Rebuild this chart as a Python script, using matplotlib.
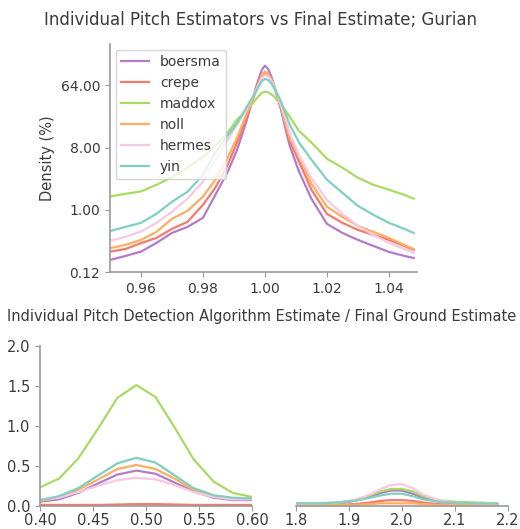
import matplotlib
matplotlib.use("Agg")
import matplotlib.pyplot as plt
from matplotlib.ticker import FixedLocator, FormatStrFormatter

names = ["boersma", "crepe", "maddox", "noll", "hermes", "yin"]
colors = ["#b47cc7", "#f57a6c", "#a9db63", "#fdae61", "#f9c8e2", "#7fd0c0"]

# ratio axis for the density plot (top)
ratio = [0.950, 0.955, 0.960, 0.965, 0.970, 0.975, 0.980, 0.984, 0.988, 0.991,
         0.994, 0.996, 0.997, 0.998, 0.999, 1.000, 1.001, 1.002, 1.003, 1.004,
         1.005, 1.0065, 1.008, 1.011,
         1.015, 1.020, 1.025, 1.030, 1.035, 1.040, 1.045, 1.048]

dens_boersma = [0.187, 0.214, 0.247, 0.331, 0.462, 0.565, 0.765, 1.65, 3.58, 7.4,
                19.1, 40, 58, 80, 108, 124, 112, 88, 64, 45,
                31, 16, 8.5, 3.6,
                1.45, 0.625, 0.462, 0.366, 0.299, 0.245, 0.214, 0.200]
dens_crepe = [0.247, 0.27, 0.329, 0.391, 0.529, 0.669, 1.18, 2.1, 4.5, 9.5,
              21.9, 38.7, 52, 68, 88, 98, 92, 76, 60, 44,
              32, 18, 10, 5.0,
              1.96, 0.874, 0.647, 0.511, 0.432, 0.366, 0.299, 0.262]
dens_maddox = [1.56, 1.71, 1.85, 2.31, 2.97, 4.09, 5.92, 8.55, 13.2, 20.4,
               27.7, 35, 40, 45, 50, 52, 51, 48, 44, 39,
               35, 28, 22.6, 14,
               9.5, 5.53, 4.09, 2.92, 2.31, 1.96, 1.65, 1.45]
dens_noll = [0.277, 0.309, 0.366, 0.478, 0.74, 0.967, 1.55, 2.74, 5.7, 11.2,
             24.2, 40, 53, 70, 92, 102, 96, 80, 63, 46,
             34, 19, 11, 6.0,
             2.39, 1.11, 0.79, 0.585, 0.478, 0.391, 0.309, 0.27]
dens_hermes = [0.354, 0.405, 0.483, 0.647, 0.935, 1.45, 2.56, 5.35, 10.5, 17.3,
               28.6, 42.8, 53, 66, 82, 91, 87, 76, 62, 47,
               35, 22, 13, 6.2,
               2.9, 1.40, 0.874, 0.585, 0.432, 0.331, 0.27, 0.237]
dens_yin = [0.49, 0.565, 0.647, 0.874, 1.31, 1.83, 3.23, 6.77, 12.0, 18.0,
            30.6, 42.8, 51, 62, 74, 80, 77, 69, 59, 48,
            39, 26, 17.3, 9.5,
            5.35, 2.74, 1.77, 1.14, 0.846, 0.647, 0.529, 0.462]

# octave-below region (bottom left)
low_x = [0.400, 0.418, 0.436, 0.455, 0.473, 0.491, 0.509, 0.527, 0.545, 0.564, 0.582, 0.600]
low_boersma = [0.05, 0.08, 0.16, 0.28, 0.39, 0.44, 0.40, 0.29, 0.18, 0.10, 0.07, 0.07]
low_crepe = [0.01, 0.01, 0.01, 0.01, 0.015, 0.02, 0.02, 0.015, 0.01, 0.01, 0.01, 0.01]
low_maddox = [0.23, 0.34, 0.59, 0.97, 1.35, 1.51, 1.36, 0.98, 0.58, 0.30, 0.16, 0.11]
low_noll = [0.06, 0.10, 0.20, 0.33, 0.46, 0.51, 0.46, 0.34, 0.20, 0.12, 0.09, 0.09]
low_hermes = [0.08, 0.10, 0.17, 0.25, 0.32, 0.35, 0.33, 0.26, 0.17, 0.11, 0.08, 0.08]
low_yin = [0.07, 0.12, 0.22, 0.38, 0.53, 0.60, 0.54, 0.38, 0.22, 0.13, 0.10, 0.09]

# octave-above region (bottom right)
high_x = [1.80, 1.84, 1.88, 1.91, 1.94, 1.96, 1.98, 2.00, 2.02, 2.04, 2.07, 2.10, 2.14, 2.18]
high_boersma = [0.02, 0.02, 0.03, 0.06, 0.11, 0.16, 0.19, 0.19, 0.15, 0.10, 0.05, 0.03, 0.02, 0.02]
high_crepe = [0.01, 0.01, 0.01, 0.02, 0.04, 0.06, 0.07, 0.07, 0.06, 0.04, 0.02, 0.01, 0.01, 0.01]
high_maddox = [0.03, 0.03, 0.04, 0.07, 0.13, 0.18, 0.21, 0.21, 0.18, 0.12, 0.07, 0.05, 0.04, 0.03]
high_noll = [0.01, 0.01, 0.01, 0.01, 0.02, 0.03, 0.03, 0.03, 0.03, 0.02, 0.01, 0.01, 0.01, 0.01]
high_hermes = [0.03, 0.03, 0.04, 0.07, 0.14, 0.21, 0.26, 0.27, 0.22, 0.14, 0.07, 0.04, 0.03, 0.03]
high_yin = [0.03, 0.03, 0.04, 0.06, 0.10, 0.13, 0.15, 0.15, 0.12, 0.08, 0.05, 0.04, 0.03, 0.03]

dens = [dens_boersma, dens_crepe, dens_maddox, dens_noll, dens_hermes, dens_yin]
low = [low_boersma, low_crepe, low_maddox, low_noll, low_hermes, low_yin]
high = [high_boersma, high_crepe, high_maddox, high_noll, high_hermes, high_yin]

text_c = "#3b3b3b"
spine_c = "#9a9a9a"
plt.rcParams["font.family"] = "DejaVu Sans"
plt.rcParams["text.color"] = text_c
plt.rcParams["xtick.color"] = spine_c
plt.rcParams["ytick.color"] = spine_c
plt.rcParams["xtick.labelcolor"] = text_c
plt.rcParams["ytick.labelcolor"] = text_c
plt.rcParams["axes.labelcolor"] = text_c

fig = plt.figure(figsize=(5.2, 5.29), dpi=100)

ax1 = fig.add_axes([0.2115, 0.4858, 0.590, 0.431])
for name, ys, c in zip(names, dens, colors):
    ax1.plot(ratio, ys, color=c, lw=1.6, label=name)
ax1.set_yscale("log", base=2)
ax1.set_ylim(0.125, 256)
ax1.set_xlim(0.95, 1.049)
ax1.yaxis.set_major_locator(FixedLocator([0.125, 1, 8, 64]))
ax1.yaxis.set_minor_locator(FixedLocator([]))
ax1.yaxis.set_major_formatter(FormatStrFormatter("%.2f"))
ax1.set_xticks([0.96, 0.98, 1.00, 1.02, 1.04])
ax1.xaxis.set_major_formatter(FormatStrFormatter("%.2f"))
ax1.tick_params(labelsize=10)
ax1.set_ylabel("Density (%)", fontsize=10.5)
ax1.legend(loc="upper left", fontsize=10, borderaxespad=0.4)

ax2 = fig.add_axes([0.0769, 0.044, 0.4077, 0.302])
for ys, c in zip(low, colors):
    ax2.plot(low_x, ys, color=c, lw=1.6)
ax2.set_xlim(0.40, 0.60)
ax2.set_ylim(0, 2.0)
ax2.set_xticks([0.40, 0.45, 0.50, 0.55, 0.60])
ax2.set_yticks([0.0, 0.5, 1.0, 1.5, 2.0])
ax2.xaxis.set_major_formatter(FormatStrFormatter("%.2f"))
ax2.yaxis.set_major_formatter(FormatStrFormatter("%.1f"))
ax2.tick_params(labelsize=10.5)
ax2.tick_params(axis="x", pad=2)

ax3 = fig.add_axes([0.569, 0.044, 0.4077, 0.302])
for ys, c in zip(high, colors):
    ax3.plot(high_x, ys, color=c, lw=1.6)
ax3.set_xlim(1.8, 2.2)
ax3.set_ylim(0, 2.0)
ax3.set_xticks([1.8, 1.9, 2.0, 2.1, 2.2])
ax3.xaxis.set_major_formatter(FormatStrFormatter("%.1f"))
ax3.set_yticks([])
ax3.spines["left"].set_visible(False)
ax3.tick_params(labelsize=10.5)
ax3.tick_params(axis="x", pad=2)

for ax in (ax1, ax2, ax3):
    ax.spines["top"].set_visible(False)
    ax.spines["right"].set_visible(False)
    for s in ("left", "bottom"):
        ax.spines[s].set_color(spine_c)
        ax.spines[s].set_linewidth(1.2)

fig.text(0.5, 0.962, "Individual Pitch Estimators vs Final Estimate; Gurian",
         ha="center", va="center", fontsize=12)
fig.text(0.504, 0.401, "Individual Pitch Detection Algorithm Estimate / Final Ground Estimate",
         ha="center", va="center", fontsize=10.5)

fig.savefig("out.png", dpi=100)
